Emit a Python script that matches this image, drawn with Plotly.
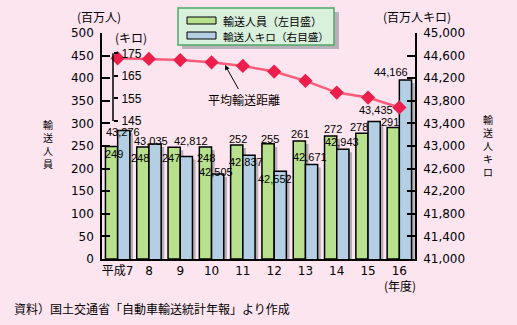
import plotly.graph_objects as go

# Fiscal years (平成7–16)
years = ["平成7", "8", "9", "10", "11", "12", "13", "14", "15", "16"]
# 輸送人員 (百万人), left axis
passengers = [249, 248, 247, 248, 252, 255, 261, 272, 278, 291]
# 輸送人キロ (百万人キロ), right axis
passenger_km = [43276, 43035, 42812, 42505, 42837, 42552, 42671, 42943, 43435, 44166]
# 平均輸送距離 (キロ), inner axis
avg_distance = [172.8, 172.5, 172.0, 171.0, 169.4, 166.9, 162.8, 157.6, 155.4, 151.0]

left_ticks = list(range(0, 501, 50))
right_ticks = list(range(41000, 45001, 400))
dist_ticks = [145, 155, 165, 175]

# ---- geometry helpers (pixel -> paper) ----
FW, FH = 517, 325
ML, MR, MT, MB = 102, 102, 33, 66
PW, PH = FW - ML - MR, FH - MT - MB


def px(x):
    return (x - ML) / PW


def py(y):
    return (FH - MB - y) / PH


BG = "#fde5f0"
GREEN = "#b9e08c"
BLUE = "#b4cfe3"
SHADOW = "#b6aeb6"
LINE = "#ff5b7b"
MARK = "#ec1f4c"
NUM_FONT = "DejaVu Sans, Noto Sans CJK JP"
JP_FONT = "Noto Sans CJK JP"
LBL_FONT = "Liberation Sans, Arial"

idx = list(range(len(years)))
BW = 0.39            # bar width in category units
SH_DX = 0.1          # drop-shadow horizontal shift
sh_g = [v - 3 * 500 / PH for v in passengers]
sh_b = [v - 3 * 4000 / PH for v in passenger_km]

fig = go.Figure()
fig.add_trace(go.Bar(x=idx, y=sh_g, offset=-BW + SH_DX, width=BW,
                     marker=dict(color=SHADOW, line=dict(width=0)), hoverinfo="skip"))
fig.add_trace(go.Bar(x=idx, y=passengers, offset=-BW, width=BW, name="輸送人員",
                     marker=dict(color=GREEN, line=dict(color="black", width=1.5))))
fig.add_trace(go.Bar(x=idx, y=sh_b, yaxis="y2", offset=SH_DX, width=BW,
                     marker=dict(color=SHADOW, line=dict(width=0)), hoverinfo="skip"))
fig.add_trace(go.Bar(x=idx, y=passenger_km, yaxis="y2", offset=0, width=BW, name="輸送人キロ",
                     marker=dict(color=BLUE, line=dict(color="black", width=1.5))))
fig.add_trace(go.Scatter(x=idx, y=avg_distance, yaxis="y3", mode="lines+markers",
                         name="平均輸送距離",
                         line=dict(color=LINE, width=2.5),
                         marker=dict(symbol="diamond", size=11, color=MARK)))

# inner distance axis: span 145–175 in pixels
k = (121 - 53.3) / 30.0
y3_hi = 175 + (53.3 - MT) / k
y3_lo = 175 - (FH - MB - 53.3) / k

axis_common = dict(showgrid=False, zeroline=False, showline=True, linecolor="black",
                   linewidth=1.5, tickcolor="black", tickwidth=1.5)

fig.update_layout(
    width=FW, height=FH, autosize=False,
    margin=dict(l=ML, r=MR, t=MT, b=MB, pad=0),
    paper_bgcolor=BG, plot_bgcolor=BG,
    barmode="overlay", showlegend=False,
    xaxis=dict(range=[-0.5, len(years) - 0.5], tickmode="array", tickvals=idx,
               ticktext=years, ticks="", showgrid=False, zeroline=False,
               showline=True, linecolor="black", linewidth=1.5,
               tickfont=dict(family=NUM_FONT, size=12, color="black")),
    yaxis=dict(range=[0, 500], tickvals=left_ticks, ticks="inside", ticklen=8,
               ticklabelstandoff=4,
               tickfont=dict(family=NUM_FONT, size=12, color="black"), **axis_common),
    yaxis2=dict(range=[41000, 45000], tickvals=right_ticks, tickformat=",d",
                overlaying="y", side="right", anchor="x", ticks="inside", ticklen=8,
                ticklabelstandoff=4,
                tickfont=dict(family=NUM_FONT, size=12, color="black"), **axis_common),
    yaxis3=dict(range=[y3_lo, y3_hi], tickvals=dist_ticks, overlaying="y",
                side="right", anchor="free", position=px(113), ticks="outside",
                ticklen=4, tickcolor="black", tickwidth=1.5, showline=False,
                showgrid=False, zeroline=False, ticklabelstandoff=1,
                tickfont=dict(family=LBL_FONT, size=12, color="black")),
)

shapes = [
    dict(type="line", xref="paper", yref="y3", x0=px(113), x1=px(113), y0=145, y1=175,
         line=dict(color="black", width=1.5)),
    # legend panel with drop shadow
    dict(type="rect", xref="paper", yref="paper", x0=px(182), x1=px(339), y0=py(12), y1=py(49),
         fillcolor="#b9b1b9", line=dict(width=0)),
    dict(type="rect", xref="paper", yref="paper", x0=px(178), x1=px(334), y0=py(8), y1=py(45),
         fillcolor="#d9f0dd", line=dict(color="#4fa866", width=1.5)),
    dict(type="rect", xref="paper", yref="paper", x0=px(187), x1=px(216), y0=py(17), y1=py(24),
         fillcolor=GREEN, line=dict(color="black", width=1)),
    dict(type="rect", xref="paper", yref="paper", x0=px(187), x1=px(216), y0=py(32), y1=py(39),
         fillcolor=BLUE, line=dict(color="black", width=1)),
]

ann = []


def text(x, y, s, size=12, family=JP_FONT, xanchor="center"):
    ann.append(dict(x=px(x), y=py(y), xref="paper", yref="paper", text=s, showarrow=False,
                    xanchor=xanchor, yanchor="middle",
                    font=dict(family=family, size=size, color="black")))


text(221, 21, "輸送人員（左目盛）", size=11, xanchor="left")
text(221, 36, "輸送人キロ（右目盛）", size=10.6, xanchor="left")
text(99, 16, "(百万人)")
text(417, 16, "(百万人キロ)")
text(131, 37, "(キロ)")
text(400, 285, "(年度)")
text(12, 308, "資料）国土交通省「自動車輸送統計年報」より作成", xanchor="left")

# vertical axis titles, one glyph per line
text(48, 144, "<br>".join("輸送人員"), size=10)
text(488, 145, "<br>".join("輸送人キロ"), size=10)

# callout for the average-distance line
ann.append(dict(x=px(225), y=py(65), xref="paper", yref="paper", text="平均輸送距離",
                showarrow=True, ax=19, ay=34, arrowhead=2, arrowsize=1, arrowwidth=1,
                arrowcolor="black", font=dict(family=JP_FONT, size=12, color="black")))

# value labels: (x shift px, drop below bar top px)
g_off = [(-3.7, 7.5), (-8.5, 11.5), (-8.8, 11), (-5.6, 11), (-4.4, -6.5),
         (-4.2, -4.7), (-5, -7), (-3.8, -7), (-9.5, -6), (-9.4, -5.5)]
b_off = [(5.8, 2.0), (2.5, -3), (10.7, -15.6), (4.9, -1.5), (3.6, 6.8),
         (1.3, 7.7), (4.5, -7.1), (5.2, -7.7), (8.4, -11), (-7.9, -8.6)]
for i in idx:
    dx, dy = g_off[i]
    ann.append(dict(x=i, y=passengers[i], xref="x", yref="y", text=f"{passengers[i]}",
                    showarrow=False, xshift=dx, yshift=-dy,
                    font=dict(family=LBL_FONT, size=11, color="black")))
    dx, dy = b_off[i]
    ann.append(dict(x=i, y=passenger_km[i], xref="x", yref="y2", text=f"{passenger_km[i]:,}",
                    showarrow=False, xshift=dx, yshift=-dy,
                    font=dict(family=LBL_FONT, size=11, color="black")))

fig.update_layout(shapes=shapes, annotations=ann)
fig.write_html("out.html")
